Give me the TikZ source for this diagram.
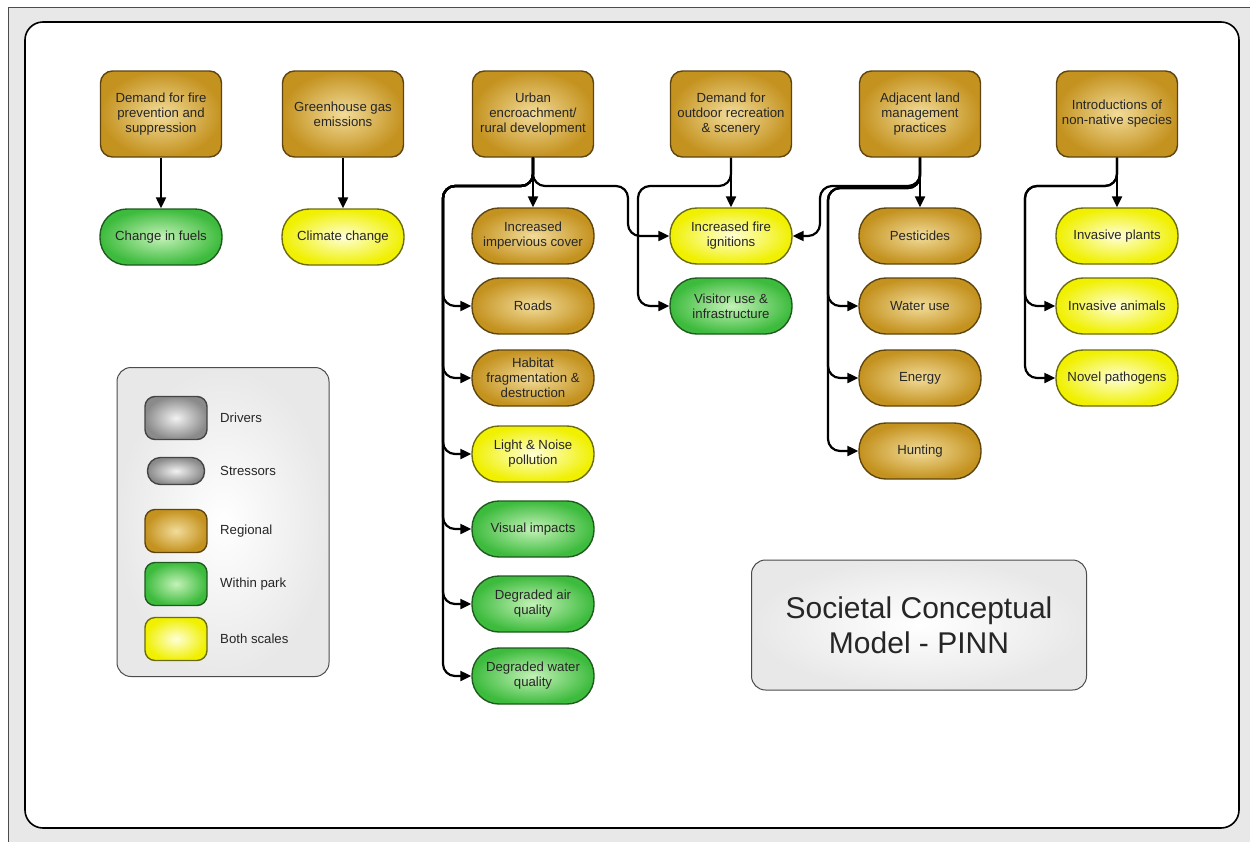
\documentclass[tikz,border=0pt]{standalone}
\usepackage{fontspec}
\setmainfont{Liberation Sans}
\usetikzlibrary{arrows.meta}
\definecolor{goldO}{HTML}{C4921F}
\definecolor{goldI}{HTML}{F2DC9A}
\definecolor{goldD}{HTML}{5E4510}
\definecolor{greenO}{HTML}{3DBB3D}
\definecolor{greenI}{HTML}{C4F2B8}
\definecolor{greenD}{HTML}{1F5A1F}
\definecolor{yelO}{HTML}{F0F000}
\definecolor{yelI}{HTML}{FFFFD8}
\definecolor{yelD}{HTML}{6B6B10}
\definecolor{grayO}{HTML}{8A8A8A}
\definecolor{grayI}{HTML}{F2F2F2}
\definecolor{grayD}{HTML}{444444}
\begin{document}
\begin{tikzpicture}[x=1pt,y=-1pt,
  every node/.style={font=\fontsize{13.2}{15}\selectfont, text=black!85, align=center, inner sep=0pt},
  drvbox/.style={rectangle, rounded corners=12pt, minimum width=121pt, minimum height=86pt, line width=1.4pt},
  strbox/.style={rectangle, rounded corners=27pt, minimum width=122pt, minimum height=56pt, line width=1.4pt},
  regional/.style={inner color=goldI, outer color=goldO, draw=goldD},
  park/.style={inner color=greenI, outer color=greenO, draw=greenD},
  both/.style={inner color=yelI, outer color=yelO, draw=yelD},
  grey/.style={inner color=grayI, outer color=grayO, draw=grayD},
  panel/.style={draw=black!70, line width=1pt, rounded corners=14pt, inner color=white, outer color=gray!18},
  arr/.style={-{Triangle[length=11pt,width=10pt]}, line width=2.2pt, rounded corners=12pt},
  leglabel/.style={anchor=west}
]
\useasboundingbox (0,0) rectangle (1250,841);
\fill[white] (0,0) rectangle (1250,841);
\draw[fill=gray!18, line width=1pt, draw=black!70] (8,7) rectangle (1262,852);
\draw[fill=white, line width=1.6pt, rounded corners=18pt] (25,22) rectangle (1239,828);

% drivers
\node[drvbox, regional] (d1) at (161,114) {Demand for fire\\prevention and\\suppression};
\node[drvbox, regional] (d2) at (343,114) {Greenhouse gas\\emissions};
\node[drvbox, regional] (d3) at (533,114) {Urban\\encroachment/\\rural development};
\node[drvbox, regional] (d4) at (731,114) {Demand for\\outdoor recreation\\\& scenery};
\node[drvbox, regional] (d5) at (920,114) {Adjacent land\\management\\practices};
\node[drvbox, regional] (d6) at (1117,114) {Introductions of\\non-native species};

% stressors
\node[strbox, park] (fuels) at (161,237) {Change in fuels};
\node[strbox, both] (climate) at (343,237) {Climate change};

\node[strbox, regional] (imp) at (533,236) {Increased\\impervious cover};
\node[strbox, regional] (roads) at (533,306) {Roads};
\node[strbox, regional] (habitat) at (533,378) {Habitat\\fragmentation \&\\destruction};
\node[strbox, both] (light) at (533,454) {Light \& Noise\\pollution};
\node[strbox, park] (visual) at (533,529) {Visual impacts};
\node[strbox, park] (air) at (533,604) {Degraded air\\quality};
\node[strbox, park] (water) at (533,676) {Degraded water\\quality};

\node[strbox, both] (fire) at (731,236) {Increased fire\\ignitions};
\node[strbox, park] (visitor) at (731,306) {Visitor use \&\\infrastructure};

\node[strbox, regional] (pest) at (920,236) {Pesticides};
\node[strbox, regional] (wuse) at (920,306) {Water use};
\node[strbox, regional] (energy) at (920,378) {Energy};
\node[strbox, regional] (hunt) at (920,451) {Hunting};

\node[strbox, both] (plants) at (1117,236) {Invasive plants};
\node[strbox, both] (animals) at (1117,306) {Invasive animals};
\node[strbox, both] (patho) at (1117,378) {Novel pathogens};

% connectors
\draw[arr] (d1) -- (fuels);
\draw[arr] (d2) -- (climate);

\draw[arr] (d3) -- (imp);
\foreach \t in {roads,habitat,light,visual,air,water}
  \draw[arr] (d3.south) |- (443,186) |- (\t.west);
\draw[arr] (d3.south) |- (628,186) |- (fire.west);

\draw[arr] (d4) -- (fire);
\draw[arr] (d4.south) |- (638,186) |- (visitor.west);

\draw[arr] (d5) -- (pest);
\draw[arr] (d5.south) |- (820,186) |- (fire.east);
\foreach \t in {wuse,energy,hunt}
  \draw[arr] (d5.south) |- (828,188) |- (\t.west);

\draw[arr] (d6) -- (plants);
\foreach \t in {animals,patho}
  \draw[arr] (d6.south) |- (1025,186) |- (\t.west);

% legend
\node[panel, minimum width=212pt, minimum height=309pt] (legend) at (223,522) {};
\node[grey, rectangle, rounded corners=10pt, line width=1.4pt, minimum width=62pt, minimum height=43pt] (lg1) at (176,418) {};
\node[leglabel] (lt1) at (220,418) {Drivers};
\node[grey, rectangle, rounded corners=13pt, line width=1.4pt, minimum width=57pt, minimum height=27pt] (lg2) at (176,471) {};
\node[leglabel] (lt2) at (220,471) {Stressors};
\node[regional, rectangle, rounded corners=10pt, line width=1.4pt, minimum width=62pt, minimum height=43pt] (lg3) at (176,531) {};
\node[leglabel] (lt3) at (220,531) {Regional};
\node[park, rectangle, rounded corners=10pt, line width=1.4pt, minimum width=62pt, minimum height=43pt] (lg4) at (176,584) {};
\node[leglabel] (lt4) at (220,584) {Within park};
\node[both, rectangle, rounded corners=10pt, line width=1.4pt, minimum width=62pt, minimum height=43pt] (lg5) at (176,639) {};
\node[leglabel] (lt5) at (220,639) {Both scales};

% title
\node[panel, minimum width=335pt, minimum height=130pt, font=\fontsize{30}{35}\selectfont] (title) at (919,625) {Societal Conceptual\\Model - PINN};
\end{tikzpicture}
\end{document}
